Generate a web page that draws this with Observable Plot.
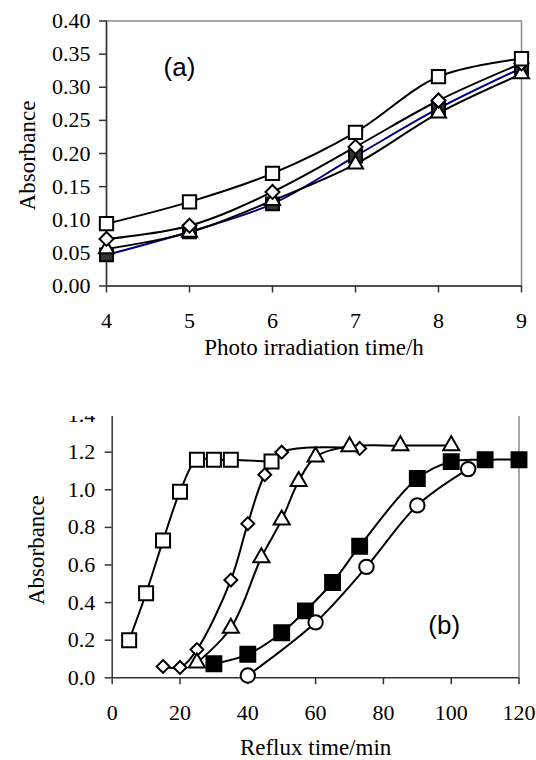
<!DOCTYPE html>
<html><head><meta charset="utf-8">
<script src="https://cdn.jsdelivr.net/npm/d3@7"></script>
<script src="https://cdn.jsdelivr.net/npm/@observablehq/plot@0.6"></script>
<style>
html,body{margin:0;padding:0;background:#fff;}
#wrap{position:relative;width:536px;height:760px;overflow:hidden;background:#fff;}
#a{position:absolute;left:0;top:0;}
#b{position:absolute;left:0;top:416px;}
#wrap svg{display:block;font-family:"Liberation Serif","Times New Roman",serif;}
</style></head><body><div id="wrap"><div id="a"></div><div id="b"></div></div>
<script>
// ---------- Panel (a) data ----------
const aTime = [4, 5, 6, 7, 8, 9];
const aSquare = [0.094, 0.127, 0.170, 0.232, 0.316, 0.343];
const aDiamond = [0.071, 0.091, 0.142, 0.210, 0.280, 0.336];
const aTriangle = [0.056, 0.081, 0.129, 0.184, 0.261, 0.320];
const aFilled = [0.047, 0.082, 0.124, 0.196, 0.268, 0.329];
const aXTicks = [4, 5, 6, 7, 8, 9];
const aYTicks = [0, 0.05, 0.10, 0.15, 0.20, 0.25, 0.30, 0.35, 0.40];

// ---------- Panel (b) data ----------
const bSquareX = [5, 10, 15, 20, 25, 30, 35, 47];
const bSquareY = [0.20, 0.45, 0.73, 0.99, 1.16, 1.16, 1.16, 1.15];
const bDiamondX = [15, 20, 25, 35, 40, 45, 50, 73];
const bDiamondY = [0.06, 0.055, 0.15, 0.52, 0.82, 1.08, 1.20, 1.22];
const bTriangleX = [25, 35, 44, 50, 55, 60, 70, 85, 100];
const bTriangleY = [0.08, 0.265, 0.64, 0.84, 1.045, 1.175, 1.23, 1.235, 1.235];
const bFilledX = [30, 40, 50, 57, 65, 73, 90, 100, 110, 120];
const bFilledY = [0.075, 0.125, 0.24, 0.356, 0.507, 0.70, 1.06, 1.15, 1.16, 1.16];
const bCircleX = [40, 60, 75, 90, 105];
const bCircleY = [0.012, 0.295, 0.59, 0.917, 1.11];
const bXTicks = [0, 20, 40, 60, 80, 100, 120];
const bYTicks = [0, 0.2, 0.4, 0.6, 0.8, 1.0, 1.2, 1.4];

const serif = "Liberation Serif";
const sans = "Liberation Sans";
const tidy = (xs, ys) => xs.map((x, i) => ({x, y: ys[i]}));
const curve = "catmull-rom";
const axisCol = "#333";
const borderCol = "#8c8c8c";
const tickFont = 22;
const titleFont = 23;

// ---------- Panel (a) ----------
const A = {
  sq: tidy(aTime, aSquare), di: tidy(aTime, aDiamond),
  tr: tidy(aTime, aTriangle), fi: tidy(aTime, aFilled)
};
const chartA = Plot.plot({
  width: 536, height: 416,
  marginLeft: 106, marginRight: 15, marginTop: 20.5, marginBottom: 130.5,
  style: "font-family: 'Liberation Serif', serif; font-size: 22px; background: white; color: black;",
  x: {domain: [4, 9]},
  y: {domain: [0, 0.4]},
  marks: [
    Plot.frame({stroke: borderCol, strokeWidth: 1.5}),
    Plot.axisY({ticks: aYTicks, tickSize: 7, tickPadding: 9, tickFormat: d3.format(".2f"),
      stroke: axisCol, strokeWidth: 1.5, fontSize: tickFont, fontFamily: serif, fill: "black", label: null}),
    Plot.axisX({ticks: aXTicks, tickSize: 7, tickPadding: 19, tickFormat: d3.format("d"),
      stroke: axisCol, strokeWidth: 1.5, fontSize: tickFont, fontFamily: serif, fill: "black", label: null}),
    Plot.ruleX([4], {stroke: axisCol, strokeWidth: 1.5}),
    Plot.ruleY([0], {stroke: axisCol, strokeWidth: 1.5}),
    Plot.line(A.fi, {x: "x", y: "y", stroke: "#000080", strokeWidth: 2, curve}),
    Plot.line(A.tr, {x: "x", y: "y", stroke: "black", strokeWidth: 2, curve}),
    Plot.line(A.di, {x: "x", y: "y", stroke: "black", strokeWidth: 2, curve}),
    Plot.line(A.sq, {x: "x", y: "y", stroke: "black", strokeWidth: 2, curve}),
    Plot.dot(A.fi, {x: "x", y: "y", symbol: "square", r: 7.3, fill: "#333", stroke: "black", strokeWidth: 2}),
    Plot.dot(A.tr, {x: "x", y: "y", symbol: "triangle", r: 5.6, fill: "white", stroke: "black", strokeWidth: 2}),
    Plot.dot(A.di, {x: "x", y: "y", symbol: "diamond2", r: 6.3, fill: "white", stroke: "black", strokeWidth: 2}),
    Plot.dot(A.sq, {x: "x", y: "y", symbol: "square", r: 7.5, fill: "white", stroke: "black", strokeWidth: 2}),
    Plot.text(["Absorbance"], {text: d => d, frameAnchor: "left", rotate: -90, dx: -79, dy: 2,
      fontSize: titleFont, fontFamily: serif, fill: "black", textAnchor: "middle", lineAnchor: "middle"}),
    Plot.text(["Photo irradiation time/h"], {text: d => d, frameAnchor: "bottom", dy: 62,
      fontSize: titleFont, fontFamily: serif, fill: "black", textAnchor: "middle", lineAnchor: "middle"}),
    Plot.text(["(a)"], {text: d => d, frameAnchor: "top-left", dx: 73, dy: 47,
      fontSize: 26, fontFamily: sans, fill: "black", textAnchor: "middle", lineAnchor: "middle"})
  ]
});
document.getElementById("a").appendChild(chartA);

// ---------- Panel (b) ----------
const B = {
  sq: tidy(bSquareX, bSquareY), di: tidy(bDiamondX, bDiamondY),
  tr: tidy(bTriangleX, bTriangleY), fi: tidy(bFilledX, bFilledY),
  ci: tidy(bCircleX, bCircleY)
};
const chartB = Plot.plot({
  width: 536, height: 344,
  marginLeft: 111.7, marginRight: 17.5, marginTop: 0, marginBottom: 82.7,
  style: "font-family: 'Liberation Serif', serif; font-size: 22px; background: white; color: black; overflow: hidden;",
  x: {domain: [0, 120]},
  y: {domain: [0, 1.4], range: [261.3, -1.9]},
  marks: [
    Plot.ruleX([120], {stroke: borderCol, strokeWidth: 1.5}),
    Plot.axisY({ticks: bYTicks, tickSize: 7, tickPadding: 10, tickFormat: d3.format(".1f"),
      stroke: axisCol, strokeWidth: 1.5, fontSize: tickFont, fontFamily: serif, fill: "black", label: null}),
    Plot.axisX({ticks: bXTicks, tickSize: 7, tickPadding: 20, tickFormat: d3.format("d"),
      stroke: axisCol, strokeWidth: 1.5, fontSize: tickFont, fontFamily: serif, fill: "black", label: null}),
    Plot.ruleX([0], {stroke: axisCol, strokeWidth: 1.5}),
    Plot.ruleY([0], {stroke: axisCol, strokeWidth: 1.5}),
    Plot.line(B.sq, {x: "x", y: "y", stroke: "black", strokeWidth: 2, curve}),
    Plot.line(B.di, {x: "x", y: "y", stroke: "black", strokeWidth: 2, curve}),
    Plot.line(B.tr, {x: "x", y: "y", stroke: "black", strokeWidth: 2, curve}),
    Plot.line(B.fi, {x: "x", y: "y", stroke: "black", strokeWidth: 2, curve}),
    Plot.line(B.ci, {x: "x", y: "y", stroke: "black", strokeWidth: 2, curve}),
    Plot.dot(B.sq, {x: "x", y: "y", symbol: "square", r: 7.9, fill: "white", stroke: "black", strokeWidth: 2}),
    Plot.dot(B.di, {x: "x", y: "y", symbol: "diamond2", r: 5.8, fill: "white", stroke: "black", strokeWidth: 2}),
    Plot.dot(B.tr, {x: "x", y: "y", symbol: "triangle", r: 6, fill: "white", stroke: "black", strokeWidth: 2}),
    Plot.dot(B.fi, {x: "x", y: "y", symbol: "square", r: 8.4, fill: "black", stroke: "black", strokeWidth: 2}),
    Plot.dot(B.ci, {x: "x", y: "y", symbol: "circle", r: 7.2, fill: "white", stroke: "black", strokeWidth: 2}),
    Plot.text(["Absorbance"], {text: d => d, frameAnchor: "left", rotate: -90, dx: -76, dy: 3,
      fontSize: titleFont, fontFamily: serif, fill: "black", textAnchor: "middle", lineAnchor: "middle"}),
    Plot.text(["Reflux time/min"], {text: d => d, frameAnchor: "bottom", dy: 69.5,
      fontSize: titleFont, fontFamily: serif, fill: "black", textAnchor: "middle", lineAnchor: "middle"}),
    Plot.text(["(b)"], {text: d => d, frameAnchor: "top-left", dx: 332, dy: 209,
      fontSize: 26, fontFamily: sans, fill: "black", textAnchor: "middle", lineAnchor: "middle"})
  ]
});
document.getElementById("b").appendChild(chartB);
</script></body></html>
